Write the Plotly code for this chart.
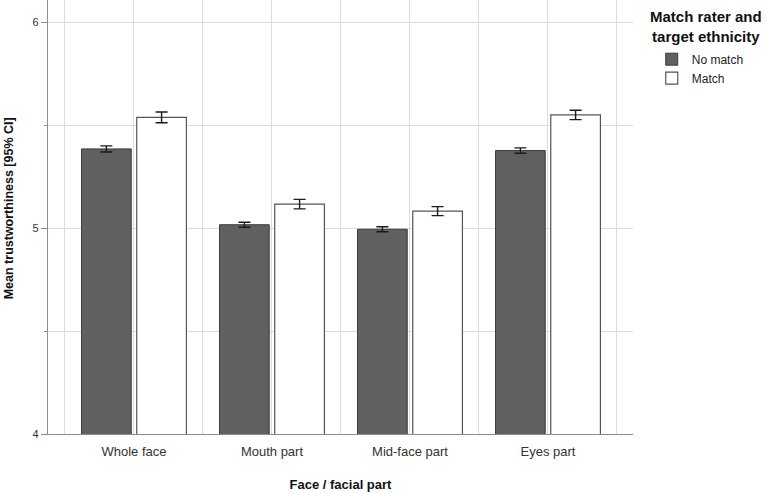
import plotly.graph_objects as go

categories = ["Whole face", "Mouth part", "Mid-face part", "Eyes part"]
no_match = [5.384, 5.016, 4.994, 5.376]
no_match_err = [0.015, 0.012, 0.012, 0.013]
match = [5.537, 5.116, 5.082, 5.549]
match_err = [0.026, 0.023, 0.022, 0.023]
y_ticks = [4, 5, 6]

xpos = list(range(len(categories)))
FONT = "Arial, Liberation Sans, sans-serif"
GRID = "#dcdcdc"
AXIS = "#8c8c8c"

fig = go.Figure()
fig.add_trace(go.Bar(
    name="No match", x=xpos, y=no_match,
    marker=dict(color="#606060", line=dict(color="#3a3a3a", width=1)),
    error_y=dict(type="data", array=no_match_err, color="#1a1a1a", thickness=1.4, width=6),
))
fig.add_trace(go.Bar(
    name="Match", x=xpos, y=match,
    marker=dict(color="#ffffff", line=dict(color="#555555", width=1.2)),
    error_y=dict(type="data", array=match_err, color="#1a1a1a", thickness=1.4, width=6),
))

fig.update_layout(
    width=767, height=493,
    margin=dict(l=48, r=134, t=0, b=59),
    paper_bgcolor="white", plot_bgcolor="white",
    barmode="group", bargap=0.2, bargroupgap=0.1,
    font=dict(family=FONT, color="#222"),
    showlegend=True,
    legend=dict(x=1.032, y=0.897, xanchor="left", yanchor="top",
                font=dict(size=12, color="#222"), itemwidth=30,
                bgcolor="rgba(0,0,0,0)", tracegroupgap=0),
    xaxis=dict(
        range=[-0.623, 3.616], tickmode="array", tickvals=xpos, ticktext=categories,
        showgrid=True, gridcolor=GRID, gridwidth=1, zeroline=False,
        showline=True, linecolor=AXIS, linewidth=1.2, ticks="",
        ticklabelstandoff=5,
        tickfont=dict(size=13, color="#333"),
        minor=dict(tickmode="array", tickvals=[-0.5, 0.5, 1.5, 2.5, 3.5],
                   showgrid=True, gridcolor=GRID, gridwidth=1, ticks=""),
        title=dict(text="<b>Face / facial part</b>", font=dict(size=13, color="#111"), standoff=22),
    ),
    yaxis=dict(
        range=[4, 6.107], tickmode="array", tickvals=y_ticks,
        showgrid=True, gridcolor=GRID, gridwidth=1, zeroline=False,
        showline=True, linecolor=AXIS, linewidth=1.2,
        ticks="outside", ticklen=6, tickcolor=AXIS,
        tickfont=dict(size=11, color="#333"),
        minor=dict(dtick=0.5, showgrid=True, gridcolor=GRID, ticks="outside", ticklen=3, tickcolor=AXIS),
    ),
    annotations=[
        dict(text="<b>Mean trustworthiness [95% CI]</b>", textangle=-90,
             xref="paper", yref="paper", x=-0.0667, y=0.52, xanchor="center", yanchor="middle",
             showarrow=False, font=dict(size=12.5, color="#111")),
        dict(text="<b>Match rater and<br>target ethnicity</b>",
             xref="paper", yref="paper", x=1.125, y=1.0, yshift=-6, xanchor="center", yanchor="top",
             showarrow=False, align="center", font=dict(size=15, color="#111")),
    ],
)

fig.write_html("out.html", config={"displayModeBar": False},
               post_script="document.body.style.margin='0';document.body.style.padding='0';")
